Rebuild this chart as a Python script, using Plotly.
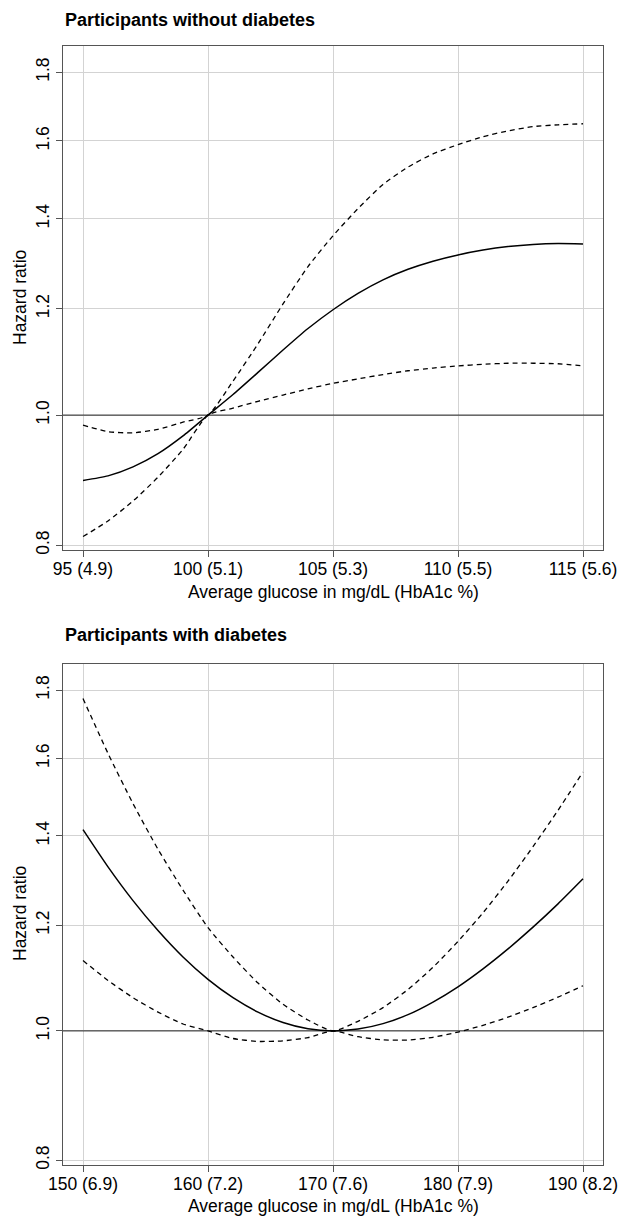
import math
import plotly.graph_objects as go

# ---------------- data ----------------
# Panel 1: participants without diabetes
glucose_nd = [95, 96, 97, 98, 99, 100, 101, 102, 103, 104, 105,
              106, 107, 108, 109, 110, 111, 112, 113, 114, 115]
hr_nd = [0.894, 0.901, 0.915, 0.936, 0.965, 1.000, 1.036, 1.076, 1.118, 1.160, 1.198,
         1.232, 1.261, 1.284, 1.302, 1.316, 1.327, 1.335, 1.340, 1.342, 1.341]
hi_nd = [0.983, 0.972, 0.970, 0.976, 0.988, 1.000, 1.060, 1.130, 1.210, 1.290, 1.360,
         1.425, 1.485, 1.530, 1.565, 1.590, 1.612, 1.628, 1.640, 1.645, 1.648]
lo_nd = [0.812, 0.834, 0.863, 0.899, 0.943, 1.000, 1.012, 1.024, 1.035, 1.046, 1.056,
         1.064, 1.072, 1.079, 1.084, 1.088, 1.091, 1.093, 1.093, 1.092, 1.088]

# Panel 2: participants with diabetes
glucose_d = [150, 152, 154, 156, 158, 160, 162, 164, 166, 168, 170,
             172, 174, 176, 178, 180, 182, 184, 186, 188, 190]
hr_d = [1.415, 1.327, 1.252, 1.189, 1.136, 1.093, 1.059, 1.033, 1.0145, 1.0036, 1.000,
        1.0031, 1.0126, 1.0284, 1.051, 1.079, 1.113, 1.152, 1.196, 1.245, 1.300]
hi_d = [1.774, 1.614, 1.480, 1.368, 1.275, 1.195, 1.136, 1.086, 1.047, 1.019, 1.000,
        1.0167, 1.041, 1.074, 1.116, 1.167, 1.226, 1.295, 1.374, 1.463, 1.563]
lo_d = [1.129, 1.091, 1.059, 1.033, 1.012, 1.000, 0.987, 0.982, 0.983, 0.9885, 1.000,
        0.990, 0.9847, 0.9844, 0.989, 0.998, 1.0097, 1.024, 1.041, 1.060, 1.081]

# axis ticks
xticks_nd = [95, 100, 105, 110, 115]
xlabels_nd = ["95 (4.9)", "100 (5.1)", "105 (5.3)", "110 (5.5)", "115 (5.6)"]
xticks_d = [150, 160, 170, 180, 190]
xlabels_d = ["150 (6.9)", "160 (7.2)", "170 (7.6)", "180 (7.9)", "190 (8.2)"]
yticks = [0.8, 1.0, 1.2, 1.4, 1.6, 1.8]
ylabels = ["0.8", "1.0", "1.2", "1.4", "1.6", "1.8"]

titles = ["Participants without diabetes", "Participants with diabetes"]
xtitle = "Average glucose in mg/dL (HbA1c %)"
ytitle = "Hazard ratio"

# ---------------- styling ----------------
FONT = "Liberation Sans, Arial, Helvetica, sans-serif"
FS = 17.5
BOX = "#555555"
GRID = "#d3d3d3"

xr_nd = [94.2, 115.8]
xr_d = [148.4, 191.6]
yr = [math.log10(0.7935), math.log10(1.883)]

fig = go.Figure()


def add_panel(x, hr, lo, hi, xa, ya, xrange):
    # reference line at HR = 1
    fig.add_trace(go.Scatter(x=xrange, y=[1, 1], mode="lines",
                             line=dict(color="#222222", width=1),
                             xaxis=xa, yaxis=ya, hoverinfo="skip"))
    for ser, dash, w in [(hi, "5px,4px", 1.3), (lo, "5px,4px", 1.3), (hr, "solid", 1.5)]:
        fig.add_trace(go.Scatter(x=x, y=ser, mode="lines",
                                 line=dict(color="black", width=w, dash=dash, shape="spline", smoothing=0.6),
                                 xaxis=xa, yaxis=ya))


add_panel(glucose_nd, hr_nd, lo_nd, hi_nd, "x", "y", xr_nd)
add_panel(glucose_d, hr_d, lo_d, hi_d, "x2", "y2", xr_d)

common_x = dict(ticks="outside", ticklen=6, tickcolor=BOX, tickwidth=1,
                showgrid=True, gridcolor=GRID, gridwidth=1,
                showline=True, linecolor=BOX, linewidth=1, mirror=True,
                zeroline=False, ticklabelstandoff=-3, automargin=False,
                tickfont=dict(size=FS, color="black"))
common_y = dict(type="log", range=yr, tickvals=yticks, ticktext=ylabels, tickangle=-90,
                ticks="outside", ticklen=6, tickcolor=BOX, tickwidth=1,
                showgrid=True, gridcolor=GRID, gridwidth=1,
                showline=True, linecolor=BOX, linewidth=1, mirror=True,
                zeroline=False, automargin=False,
                tickfont=dict(size=FS, color="black"))

H_PLOT = 1216 - 46 - 51


def py(pix):
    return (1165 - pix) / H_PLOT


fig.update_layout(
    width=620, height=1216, autosize=False,
    margin=dict(l=63, r=17, t=46, b=51),
    plot_bgcolor="white", paper_bgcolor="white",
    showlegend=False,
    font=dict(family=FONT, size=FS, color="black"),
    xaxis=dict(domain=[0, 1], anchor="y", range=xr_nd, tickvals=xticks_nd, ticktext=xlabels_nd, **common_x),
    yaxis=dict(domain=[py(550), 1.0], anchor="x", **common_y),
    xaxis2=dict(domain=[0, 1], anchor="y2", range=xr_d, tickvals=xticks_d, ticktext=xlabels_d, **common_x),
    yaxis2=dict(domain=[0, py(664)], anchor="x2", **common_y),
    annotations=[
        dict(text="<b>%s</b>" % titles[0], xref="paper", yref="paper", x=0, y=py(20),
             xanchor="left", yanchor="middle", showarrow=False, font=dict(size=18)),
        dict(text="<b>%s</b>" % titles[1], xref="paper", yref="paper", x=0, y=py(635),
             xanchor="left", yanchor="middle", showarrow=False, font=dict(size=18)),
        dict(text=xtitle, xref="paper", yref="paper", x=0.5, y=py(592),
             xanchor="center", yanchor="middle", showarrow=False),
        dict(text=xtitle, xref="paper", yref="paper", x=0.5, y=py(1206),
             xanchor="center", yanchor="middle", showarrow=False),
        dict(text=ytitle, xref="paper", yref="paper", x=(20 - 63) / 540, y=py(298),
             xanchor="center", yanchor="middle", showarrow=False, textangle=-90),
        dict(text=ytitle, xref="paper", yref="paper", x=(20 - 63) / 540, y=py(914),
             xanchor="center", yanchor="middle", showarrow=False, textangle=-90),
    ],
)

fig.write_html("out.html",
               config={"responsive": False, "displayModeBar": False},
               post_script="document.body.style.margin='0px';document.body.style.overflow='hidden';")
